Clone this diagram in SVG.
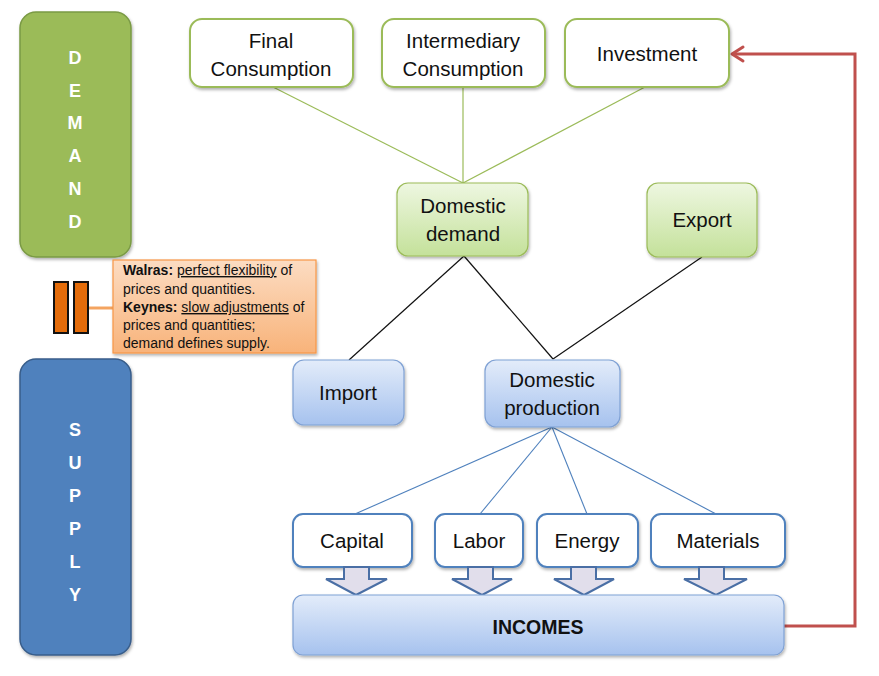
<svg xmlns="http://www.w3.org/2000/svg" width="879" height="676" viewBox="0 0 879 676">
<defs>
<linearGradient id="gGreen" x1="0" y1="0" x2="0" y2="1"><stop offset="0" stop-color="#EEF7E1"/><stop offset="1" stop-color="#C4E19A"/></linearGradient>
<linearGradient id="gBlue" x1="0" y1="0" x2="0" y2="1"><stop offset="0" stop-color="#E3ECFA"/><stop offset="1" stop-color="#A6C2EE"/></linearGradient>
<linearGradient id="gOrange" x1="0" y1="0" x2="0" y2="1"><stop offset="0" stop-color="#FCDCC2"/><stop offset="1" stop-color="#F8B37A"/></linearGradient>
<filter id="sh" x="-10%" y="-10%" width="130%" height="140%"><feDropShadow dx="1" dy="2" stdDeviation="1.5" flood-color="#000" flood-opacity="0.3"/></filter>
</defs>
<style>
text{font-family:"Liberation Sans",Arial,sans-serif;}
.lbl{font-size:20.5px;fill:#111;text-anchor:middle;}
.side{font-size:18px;font-weight:bold;fill:#fff;text-anchor:middle;}
.cal{font-size:14px;fill:#111;}
.gbox{fill:#fff;stroke:#9BBB59;stroke-width:2;}
.bbox{fill:#fff;stroke:#4F81BD;stroke-width:2;}
.gfill{fill:url(#gGreen);stroke:#9BBB59;stroke-width:1.2;}
.bfill{fill:url(#gBlue);stroke:#7FA1D4;stroke-width:1.2;}
.blk{fill:#E1DEEB;stroke:#4A6FA5;stroke-width:2;stroke-linejoin:miter;}
.red{fill:none;stroke:#C0504D;stroke-width:3;}
</style>
<rect width="879" height="676" fill="#fff"/>

<g id="connectors">
<g stroke="#9BBB59" stroke-width="1.2" fill="none">
<line x1="273" y1="87" x2="463" y2="183"/>
<line x1="463" y1="87" x2="463" y2="183"/>
<line x1="645" y1="87" x2="463" y2="183"/>
</g>
<g stroke="#111" stroke-width="1.2" fill="none">
<line x1="464" y1="256" x2="349" y2="360"/>
<line x1="464" y1="256" x2="553" y2="359"/>
<line x1="702" y1="257" x2="553" y2="359"/>
</g>
<g stroke="#4F81BD" stroke-width="1.1" fill="none">
<line x1="552" y1="427" x2="355" y2="514"/>
<line x1="552" y1="427" x2="480" y2="514"/>
<line x1="552" y1="427" x2="587" y2="514"/>
<line x1="552" y1="427" x2="716" y2="514"/>
</g>
<line x1="89" y1="308" x2="113" y2="308" stroke="#F4A460" stroke-width="3"/>
<path class="red" d="M784,626 H855 V54 H733"/>
<path class="red" d="M743,47 L732,54 L743,61" stroke-linecap="round" stroke-linejoin="round"/>
</g>

<g id="demand">
<rect x="20" y="12" width="111" height="245" rx="16" fill="#9BBB59" stroke="#7A9A44" stroke-width="1.5" filter="url(#sh)"/>
<text class="side" x="75" y="64">D</text>
<text class="side" x="75" y="97">E</text>
<text class="side" x="75" y="129">M</text>
<text class="side" x="75" y="162">A</text>
<text class="side" x="75" y="195">N</text>
<text class="side" x="75" y="228">D</text>
</g>

<g id="supply">
<rect x="20" y="359" width="111" height="296" rx="16" fill="#4F81BD" stroke="#385D8A" stroke-width="1.5" filter="url(#sh)"/>
<text class="side" x="75" y="436">S</text>
<text class="side" x="75" y="469">U</text>
<text class="side" x="75" y="502">P</text>
<text class="side" x="75" y="535">P</text>
<text class="side" x="75" y="568">L</text>
<text class="side" x="75" y="601">Y</text>
</g>

<g id="equals">
<rect x="54" y="282" width="14" height="51" fill="#E46C0A" stroke="#111" stroke-width="2"/>
<rect x="74" y="282" width="14" height="51" fill="#E46C0A" stroke="#111" stroke-width="2"/>
</g>

<g id="callout">
<rect x="113" y="260" width="203" height="93" fill="url(#gOrange)" stroke="#F79646" stroke-width="1.2" filter="url(#sh)"/>
<text class="cal" x="123" y="275"><tspan font-weight="bold">Walras:</tspan> <tspan text-decoration="underline">perfect flexibility</tspan> of</text>
<text class="cal" x="123" y="294">prices and quantities.</text>
<text class="cal" x="123" y="312"><tspan font-weight="bold">Keynes:</tspan> <tspan text-decoration="underline">slow adjustments</tspan> of</text>
<text class="cal" x="123" y="330">prices and quantities;</text>
<text class="cal" x="123" y="348">demand defines supply.</text>
</g>

<g id="final-consumption">
<rect class="gbox" x="190" y="19" width="163" height="68" rx="12" filter="url(#sh)"/>
<text class="lbl" x="271" y="48">Final</text>
<text class="lbl" x="271" y="76">Consumption</text>
</g>
<g id="intermediary-consumption">
<rect class="gbox" x="382" y="19" width="163" height="68" rx="12" filter="url(#sh)"/>
<text class="lbl" x="463" y="48">Intermediary</text>
<text class="lbl" x="463" y="76">Consumption</text>
</g>
<g id="investment">
<rect class="gbox" x="565" y="19" width="164" height="68" rx="12" filter="url(#sh)"/>
<text class="lbl" x="647" y="61">Investment</text>
</g>

<g id="domestic-demand">
<rect class="gfill" x="397" y="183" width="131" height="73" rx="11" filter="url(#sh)"/>
<text class="lbl" x="463" y="213">Domestic</text>
<text class="lbl" x="463" y="241">demand</text>
</g>
<g id="export">
<rect class="gfill" x="647" y="183" width="110" height="74" rx="11" filter="url(#sh)"/>
<text class="lbl" x="702" y="227">Export</text>
</g>

<g id="import">
<rect class="bfill" x="293" y="360" width="111" height="65" rx="11" filter="url(#sh)"/>
<text class="lbl" x="348" y="400">Import</text>
</g>
<g id="domestic-production">
<rect class="bfill" x="485" y="360" width="135" height="67" rx="11" filter="url(#sh)"/>
<text class="lbl" x="552" y="387">Domestic</text>
<text class="lbl" x="552" y="415">production</text>
</g>

<g id="capital">
<rect class="bbox" x="293" y="514" width="119" height="53" rx="10" filter="url(#sh)"/>
<text class="lbl" x="352" y="548">Capital</text>
<path class="blk" d="M344,567 H369 V579 H387 L356,595 L326,579 H344 Z"/>
</g>
<g id="labor">
<rect class="bbox" x="435" y="514" width="88" height="53" rx="10" filter="url(#sh)"/>
<text class="lbl" x="479" y="548">Labor</text>
<path class="blk" d="M468,567 H493 V579 H512 L482,595 L452,579 H468 Z"/>
</g>
<g id="energy">
<rect class="bbox" x="537" y="514" width="101" height="53" rx="10" filter="url(#sh)"/>
<text class="lbl" x="587" y="548">Energy</text>
<path class="blk" d="M571,567 H596 V579 H614 L584,595 L554,579 H571 Z"/>
</g>
<g id="materials">
<rect class="bbox" x="651" y="514" width="134" height="53" rx="10" filter="url(#sh)"/>
<text class="lbl" x="718" y="548">Materials</text>
<path class="blk" d="M699,567 H724 V579 H747 L716,595 L684,579 H699 Z"/>
</g>

<g id="incomes">
<rect x="293" y="595" width="491" height="60" rx="10" fill="url(#gBlue)" stroke="#7FA1D4" stroke-width="1.2" filter="url(#sh)"/>
<text x="538" y="634" font-size="19.5" font-weight="bold" fill="#111" text-anchor="middle">INCOMES</text>
</g>
</svg>
